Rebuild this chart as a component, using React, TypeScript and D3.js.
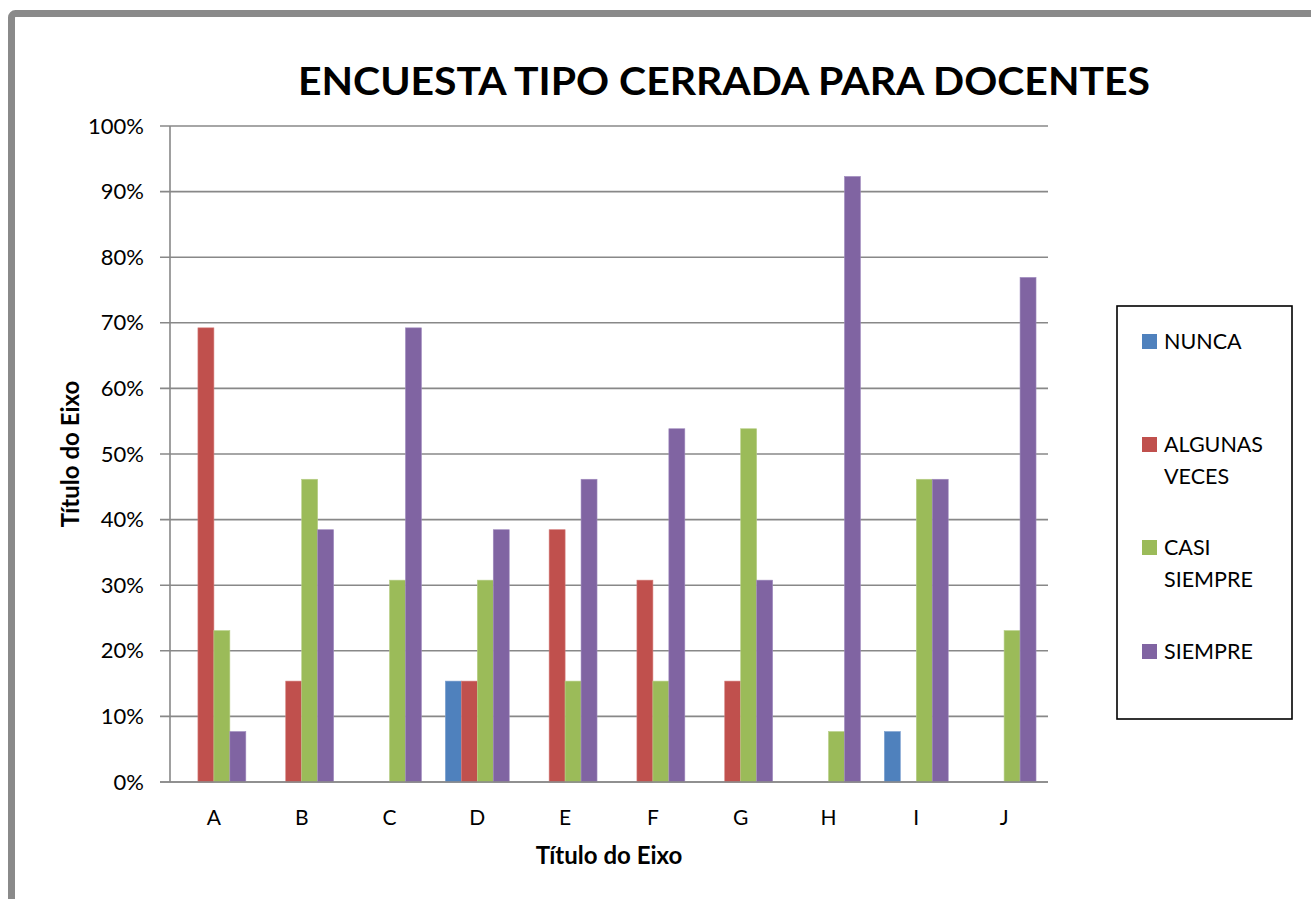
import React from "react";
import * as d3 from "d3";

const categories = ["A", "B", "C", "D", "E", "F", "G", "H", "I", "J"];
const seriesNames = ["NUNCA", "ALGUNAS VECES", "CASI SIEMPRE", "SIEMPRE"];
const nunca = [0, 0, 0, 15.38, 0, 0, 0, 0, 7.69, 0];
const algunasVeces = [69.23, 15.38, 0, 15.38, 38.46, 30.77, 15.38, 0, 0, 0];
const casiSiempre = [23.08, 46.15, 30.77, 30.77, 15.38, 15.38, 53.85, 7.69, 46.15, 23.08];
const siempre = [7.69, 38.46, 69.23, 38.46, 46.15, 53.85, 30.77, 92.31, 46.15, 76.92];
const yTicks = [0, 10, 20, 30, 40, 50, 60, 70, 80, 90, 100];
const colors = ["#4F81BD", "#C0504D", "#9BBB59", "#8064A2"];
const strokes = ["#7A9FD0", "#D47B78", "#B7CF87", "#A08BBE"];

const seriesValues = [nunca, algunasVeces, casiSiempre, siempre];

export default function App() {
  const W = 1311;
  const H = 899;
  const left = 170;
  const right = 1048;
  const top = 126;
  const bottom = 782;
  const font = "Lato, 'Open Sans', sans-serif";

  const x0 = d3.scaleBand<string>().domain(categories).range([left, right]).paddingInner(0).paddingOuter(0);
  const bw = x0.bandwidth();
  const barW = bw / 5.5;
  const x1 = d3
    .scaleBand<number>()
    .domain([0, 1, 2, 3])
    .range([(bw - 4 * barW) / 2, (bw + 4 * barW) / 2]);
  const y = d3.scaleLinear().domain([0, 100]).range([bottom, top]);

  const legendItems = [
    { lines: ["NUNCA"], base: 349 },
    { lines: ["ALGUNAS", "VECES"], base: 452 },
    { lines: ["CASI", "SIEMPRE"], base: 555 },
    { lines: ["SIEMPRE"], base: 659 },
  ];

  return (
    <svg
      width={W}
      height={H}
      style={{ position: "absolute", left: 0, top: 0, background: "#fff" }}
    >
      <rect x={0} y={0} width={W} height={H} fill="#fff" />
      <rect x={11.5} y={13.5} width={1400} height={1000} rx={4} fill="none" stroke="#8A8A8A" strokeWidth={7} />

      <text
        x={298}
        y={95}
        fontFamily={font}
        fontWeight="bold"
        fontSize={39}
        textLength={852}
        lengthAdjust="spacingAndGlyphs"
        fill="#000"
      >
        ENCUESTA TIPO CERRADA PARA DOCENTES
      </text>

      {/* gridlines */}
      {yTicks.map((t) => (
        <g key={t}>
          <line x1={160} x2={right} y1={y(t)} y2={y(t)} stroke="#888" strokeWidth={1.6} />
          <text
            x={144}
            y={y(t) + 7.5}
            textAnchor="end"
            fontFamily={font}
            fontSize={22}
            fill="#000"
          >
            {t}%
          </text>
        </g>
      ))}
      <line x1={left} x2={left} y1={top} y2={bottom} stroke="#888" strokeWidth={1.6} />

      {/* bars */}
      {categories.map((c, ci) => (
        <g key={c} transform={`translate(${x0(c)},0)`}>
          {seriesValues.map((vals, si) =>
            vals[ci] > 0 ? (
              <rect
                key={si}
                x={x1(si)}
                y={y(vals[ci])}
                width={barW}
                height={bottom - y(vals[ci])}
                fill={colors[si]}
                stroke={strokes[si]}
                strokeWidth={0.6}
              />
            ) : null
          )}
          <text
            x={bw / 2}
            y={825}
            textAnchor="middle"
            fontFamily={font}
            fontSize={21}
            fill="#000"
          >
            {c}
          </text>
        </g>
      ))}
      <line x1={160} x2={right} y1={bottom} y2={bottom} stroke="#888" strokeWidth={1.6} />

      {/* axis titles */}
      <text
        x={(left + right) / 2}
        y={864}
        textAnchor="middle"
        fontFamily={font}
        fontWeight="bold"
        fontSize={24}
        fill="#000"
      >
        Título do Eixo
      </text>
      <text
        transform={`translate(79,${(top + bottom) / 2}) rotate(-90)`}
        textAnchor="middle"
        fontFamily={font}
        fontWeight="bold"
        fontSize={24}
        fill="#000"
      >
        Título do Eixo
      </text>

      {/* legend */}
      <rect x={1117} y={306} width={175} height={413} fill="#fff" stroke="#000" strokeWidth={1.6} />
      {legendItems.map((it, i) => (
        <g key={seriesNames[i]}>
          <rect x={1142} y={it.base - 15} width={15} height={15} fill={colors[i]} />
          {it.lines.map((ln, li) => (
            <text
              key={li}
              x={1164}
              y={it.base + li * 32}
              fontFamily={font}
              fontSize={21.5}
              fill="#000"
            >
              {ln}
            </text>
          ))}
        </g>
      ))}
    </svg>
  );
}
